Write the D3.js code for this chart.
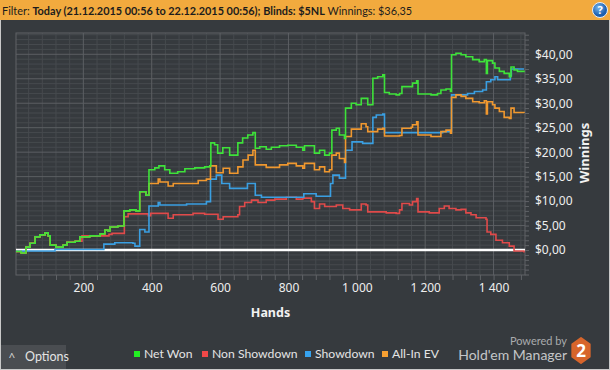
<!DOCTYPE html>
<html>
<head>
<meta charset="utf-8">
<script src="https://cdn.jsdelivr.net/npm/d3@7"></script>
<style>
  body { margin: 0; background: #363a3e; }
  svg { display: block; font-family: "Noto Sans", sans-serif; }
</style>
</head>
<body>
<script>
// hands / winnings (step points)
let netHands = [3,18,32,44,59,73,88,97,103,120,141,152,176,190,219,249,263,272,278,301,319,336,354,365,383,392,409,421,438,453,476,497,526,555,570,573,584,593,608,628,652,666,681,696,703,716,735,750,774,798,823,842,847,871,876,891,906,920,927,940,949,964,967,984,998,1013,1027,1032,1045,1047,1061,1076,1081,1095,1115,1125,1132,1159,1163,1175,1179,1217,1236,1246,1261,1274,1277,1290,1305,1319,1339,1358,1373,1379,1382,1397,1404,1417,1431,1446,1451,1460,1470,1489];
let netWon = [-0.3,-0.6,0.6,1.4,2.7,3.1,3.5,2.9,1.0,0.6,1.0,1.6,1.8,2.7,2.9,3.3,4.1,3.9,4.7,4.9,8.0,8.2,8.0,11.9,11.2,16.4,16.8,17.2,16.4,15.7,16.0,16.6,16.8,17.0,17.2,21.9,21.5,19.8,20.9,19.4,21.9,22.9,23.5,24.0,20.8,21.1,20.6,21.0,21.3,21.4,21.0,20.4,21.3,21.3,19.8,20.4,19.4,19.8,24.5,24.9,23.5,22.8,29.0,30.0,29.7,31.0,31.0,29.7,29.7,35.1,35.4,35.8,32.2,31.9,31.7,32.0,33.4,33.4,34.1,34.6,31.9,31.7,32.0,32.7,32.9,32.4,39.9,40.2,39.9,39.5,38.9,38.5,38.9,36.1,38.7,38.2,37.2,36.5,36.1,35.4,37.4,36.8,36.5,36.35];

let nonSdHands = [3,18,32,44,59,73,88,97,103,120,141,152,176,196,275,284,320,331,365,390,397,424,448,463,521,555,594,609,652,657,672,692,711,735,760,794,823,842,867,876,891,906,940,959,979,1013,1027,1032,1066,1086,1115,1125,1132,1154,1163,1175,1179,1212,1241,1256,1270,1290,1305,1319,1334,1349,1378,1381,1392,1407,1426,1446,1460,1489];
let nonShowdown = [-0.3,-0.6,0.6,1.4,2.7,3.1,3.5,2.9,1.0,0.6,1.0,1.6,1.8,2.9,3.2,3.4,6.8,7.4,7.4,7.0,7.5,7.5,6.5,7.2,7.5,7.3,6.3,6.8,7.2,8.9,9.7,10.2,9.7,10.2,10.4,10.8,10.4,10.6,9.9,8.5,9.4,8.9,9.2,8.5,8.2,9.4,9.2,7.8,7.8,7.6,7.5,8.2,9.5,9.2,9.9,10.5,7.8,7.6,8.5,9.0,8.5,8.2,8.3,7.6,7.2,6.6,6.3,3.7,3.2,2.0,1.5,0.8,-0.2,-0.5];

let sdHands = [3,117,260,292,345,351,365,380,392,419,424,502,560,572,589,605,628,680,703,721,845,881,923,930,949,967,986,1017,1047,1057,1076,1081,1251,1277,1324,1344,1368,1379,1392,1404,1412,1449,1452,1489];
let showdown = [-0.2,0.1,1.2,1.5,1.4,0.8,4.2,3.7,9.0,9.7,9.2,9.4,9.9,14.5,15.3,13.6,12.6,13.6,11.2,10.8,11.5,11.0,13.6,15.3,14.7,20.4,22.1,21.8,27.1,27.6,27.8,24.0,24.2,31.7,32.0,32.4,32.7,34.4,34.8,35.4,34.8,35.6,37.0,37.0];

let evHands = [3,18,32,44,59,73,88,97,103,120,141,152,176,190,219,249,263,272,278,301,319,336,354,365,383,392,419,424,448,463,536,560,572,589,609,628,652,667,682,696,703,735,774,798,823,842,847,876,891,906,920,927,940,949,964,967,984,1013,1027,1032,1061,1076,1081,1125,1132,1159,1163,1175,1179,1217,1246,1261,1274,1277,1290,1305,1319,1339,1358,1373,1379,1382,1397,1404,1417,1431,1446,1451,1460,1489];
let allInEv = [-0.3,-0.6,0.6,1.4,2.7,3.1,3.5,2.9,1.0,0.6,1.0,1.6,1.8,2.7,2.9,3.3,4.1,3.9,4.7,4.9,8.0,8.2,8.0,11.9,11.2,13.6,14.5,13.9,13.1,13.6,14.2,14.5,17.2,15.8,16.7,15.7,17.0,18.4,19.4,20.4,17.4,16.9,17.4,17.7,17.2,16.7,17.7,16.4,17.0,16.0,16.4,19.4,19.8,18.7,17.9,23.2,24.7,25.8,25.2,24.2,24.7,24.9,23.3,23.4,24.9,25.1,25.6,26.2,23.5,23.2,24.2,24.5,23.9,31.2,31.7,31.4,31.0,30.3,30.1,30.5,27.8,30.3,29.7,29.0,28.3,27.1,26.9,29.0,28.1,28.0];

let seriesNames = ["Net Won", "Non Showdown", "Showdown", "All-In EV"];
let xTickLabels = [200, 400, 600, 800, 1000, 1200, 1400];
let yTickLabels = [0, 5, 10, 15, 20, 25, 30, 35, 40];

let lineColors = ["#3ee23a", "#e04a4a", "#3a9fe2", "#f0982f"];
let keyColors = ["#22ee22", "#f04848", "#36a2ee", "#f7a032"];

let width = 610, height = 370;
let margin = { top: 33, right: 85, bottom: 95, left: 16 },
    pw = width - margin.left - margin.right,
    ph = height - margin.top - margin.bottom;

let locale = d3.formatLocale({ decimal: ",", thousands: " ", grouping: [3], currency: ["$", ""] });
let fmtHands = locale.format(",");
let fmtMoney = locale.format("$,.2f");

let x = d3.scaleLinear().domain([3, 1492]).range([0, pw]);
let y = d3.scaleLinear().domain([-5.1, 44.35]).range([ph, 0]);

let svg = d3.select("body").append("svg")
    .attr("width", width)
    .attr("height", height);

// frame + header
svg.append("rect").attr("x", 0.5).attr("y", 0.5).attr("width", width - 1).attr("height", height - 1)
    .attr("fill", "#363a3e").attr("stroke", "#c9c9c9");
svg.append("rect").attr("x", 0).attr("y", 0).attr("width", width).attr("height", 20).attr("fill", "#f2aa3e");

let head = svg.append("text").attr("x", 2).attr("y", 14.5).attr("font-size", 12)
    .attr("font-family", "Lato, sans-serif").attr("fill", "#1c1c1c");
head.append("tspan").text("Filter: ");
head.append("tspan").attr("font-weight", "bold").text("Today (21.12.2015 00:56 to 22.12.2015 00:56); Blinds: $5NL");
head.append("tspan").text(" Winnings: $36,35");
// fit the header to the width it has in the original
let hw = head.node().getComputedTextLength();
head.attr("font-size", 12 * 411 / hw);

let grad = svg.append("defs").append("radialGradient").attr("id", "qg").attr("cx", "40%").attr("cy", "35%");
grad.append("stop").attr("offset", "0%").attr("stop-color", "#7ab8ec");
grad.append("stop").attr("offset", "100%").attr("stop-color", "#1c5fae");
svg.append("circle").attr("cx", 600).attr("cy", 10).attr("r", 7.5).attr("fill", "url(#qg)").attr("stroke", "#e8eef5");
svg.append("text").attr("x", 600).attr("y", 14).attr("text-anchor", "middle")
    .attr("font-size", 11).attr("font-weight", "bold").attr("fill", "#fff").text("?");

svg.select("defs").append("clipPath").attr("id", "plotclip")
    .append("rect").attr("width", pw).attr("height", ph);

let g = svg.append("g").attr("transform", "translate(" + margin.left + "," + margin.top + ")");

// grid
let minorX = d3.range(40, 1492, 40), minorY = d3.range(-5, 45, 1);
g.append("g").selectAll("line").data(minorX.filter(d => d % 200 !== 0)).enter().append("line")
    .attr("x1", d => x(d)).attr("x2", d => x(d)).attr("y1", 0).attr("y2", ph)
    .attr("stroke", "#464a4e");
g.append("g").selectAll("line").data(minorY.filter(d => d % 5 !== 0)).enter().append("line")
    .attr("y1", d => y(d)).attr("y2", d => y(d)).attr("x1", 0).attr("x2", pw)
    .attr("stroke", "#464a4e");
g.append("g").selectAll("line").data(xTickLabels).enter().append("line")
    .attr("x1", d => x(d)).attr("x2", d => x(d)).attr("y1", 0).attr("y2", ph)
    .attr("stroke", "#5c5f63");
g.append("g").selectAll("line").data(yTickLabels).enter().append("line")
    .attr("y1", d => y(d)).attr("y2", d => y(d)).attr("x1", 0).attr("x2", pw)
    .attr("stroke", "#5c5f63");
g.append("rect").attr("x", 0).attr("y", 0).attr("width", pw).attr("height", ph)
    .attr("fill", "none").attr("stroke", "#606367");

// axes
let xAxis = g.append("g").attr("transform", "translate(0," + ph + ")")
    .call(d3.axisBottom(x).tickValues(minorX).tickSize(5).tickPadding(3)
        .tickFormat(d => d % 200 === 0 ? fmtHands(d) : ""));
let yAxis = g.append("g").attr("transform", "translate(" + pw + ",0)")
    .call(d3.axisRight(y).tickValues(minorY).tickSize(4).tickPadding(6)
        .tickFormat(d => d % 5 === 0 && d >= 0 ? fmtMoney(d) : ""));
[xAxis, yAxis].forEach(a => {
    a.select(".domain").remove();
    a.selectAll(".tick line").attr("stroke", "#606367");
    a.selectAll("text").attr("fill", "#eeeeee").attr("font-size", 12)
        .attr("font-family", "'Noto Sans', sans-serif");
});

g.append("text").attr("x", pw / 2).attr("y", ph + 42).attr("text-anchor", "middle")
    .attr("font-size", 12.5).attr("font-weight", "bold").attr("fill", "#f2f2f2").text("Hands");
g.append("text").attr("transform", "translate(" + (pw + 64) + "," + (ph / 2 - 1) + ") rotate(-90)")
    .attr("text-anchor", "middle").attr("font-size", 13).attr("font-weight", "bold")
    .attr("fill", "#f2f2f2").text("Winnings");

// zero line
g.append("line").attr("x1", 0).attr("x2", pw).attr("y1", y(0)).attr("y2", y(0))
    .attr("stroke", "#ffffff").attr("stroke-width", 2.5);

// series
let line = d3.line().x(d => x(d[0])).y(d => y(d[1])).curve(d3.curveStepAfter);
let series = [
    d3.zip(netHands, netWon),
    d3.zip(nonSdHands, nonShowdown),
    d3.zip(sdHands, showdown),
    d3.zip(evHands, allInEv)
];
let plot = g.append("g").attr("clip-path", "url(#plotclip)");
[1, 2, 3, 0].forEach(i => {
    plot.append("path").datum(series[i])
        .attr("d", line)
        .attr("fill", "none")
        .attr("stroke", lineColors[i])
        .attr("stroke-width", 1.6);
});

// legend
let keyX = [134, 202, 305, 382];
let key = svg.append("g").selectAll("g").data(seriesNames).enter().append("g")
    .attr("transform", (d, i) => "translate(" + keyX[i] + ",351)");
key.append("rect").attr("width", 6).attr("height", 6).attr("fill", (d, i) => keyColors[i]);
key.append("text").attr("x", 10).attr("y", 3).attr("dy", "0.35em")
    .attr("font-family", "Lato, sans-serif")
    .attr("font-size", 12.2).attr("fill", "#e4e4e4").text(d => d);

// options button
svg.append("rect").attr("x", 1).attr("y", 345).attr("width", 65).attr("height", 24).attr("fill", "#4a4d51");
svg.append("text").attr("x", 12).attr("y", 361).attr("text-anchor", "middle")
    .attr("font-size", 11).attr("fill", "#dddddd").text("^");
svg.append("text").attr("x", 25).attr("y", 361).attr("font-family", "Lato, sans-serif")
    .attr("font-size", 12.5).attr("fill", "#e4e4e4").text("Options");

// branding
svg.append("text").attr("x", 567).attr("y", 345).attr("text-anchor", "end")
    .attr("font-family", "Lato, sans-serif")
    .attr("font-size", 11).attr("fill", "#a9abad").text("Powered by");
svg.append("text").attr("x", 567).attr("y", 360).attr("text-anchor", "end")
    .attr("font-family", "Lato, sans-serif")
    .attr("font-size", 14).attr("fill", "#c4c6c8").text("Hold'em Manager");
let hex = d3.range(6).map(k => {
    let a = Math.PI / 3 * k - Math.PI / 2;
    return [581 + 10 * Math.cos(a), 350.5 + 12.5 * Math.sin(a)];
});
svg.append("path").attr("d", "M" + hex.join("L") + "Z").attr("fill", "#d7652b")
    .attr("stroke", "#d7652b").attr("stroke-width", 2).attr("stroke-linejoin", "round");
svg.append("text").attr("x", 581).attr("y", 356.5).attr("text-anchor", "middle")
    .attr("font-size", 17).attr("font-weight", "bold").attr("fill", "#ffffff").text("2");
</script>
</body>
</html>
